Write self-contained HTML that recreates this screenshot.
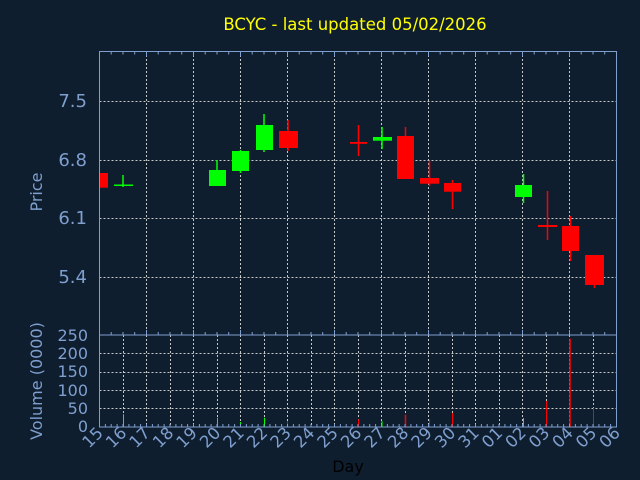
<!DOCTYPE html>
<html><head><meta charset="utf-8"><style>
html,body{margin:0;padding:0;background:#0f1e2f;}
svg{display:block;}
text{font-family:"DejaVu Sans","Liberation Sans",sans-serif;}
</style></head><body>
<svg width="640" height="480" xmlns="http://www.w3.org/2000/svg">
<rect width="640" height="480" fill="#0f1e2f"/>
<text x="355" y="30" fill="#ffff00" font-size="16.5" text-anchor="middle">BCYC - last updated 05/02/2026</text>
<g stroke="#c8c8c8" stroke-width="1" stroke-dasharray="2,2">
<line x1="99.5" x2="616.5" y1="101.5" y2="101.5"/>
<line x1="99.5" x2="616.5" y1="160.5" y2="160.5"/>
<line x1="99.5" x2="616.5" y1="218.5" y2="218.5"/>
<line x1="99.5" x2="616.5" y1="277.5" y2="277.5"/>
<line x1="99.5" x2="616.5" y1="353.5" y2="353.5"/>
<line x1="99.5" x2="616.5" y1="372.5" y2="372.5"/>
<line x1="99.5" x2="616.5" y1="390.5" y2="390.5"/>
<line x1="99.5" x2="616.5" y1="408.5" y2="408.5"/>
<line x1="146.5" x2="146.5" y1="51" y2="427"/>
<line x1="193.5" x2="193.5" y1="51" y2="427"/>
<line x1="240.5" x2="240.5" y1="51" y2="427"/>
<line x1="287.5" x2="287.5" y1="51" y2="427"/>
<line x1="334.5" x2="334.5" y1="51" y2="427"/>
<line x1="381.5" x2="381.5" y1="51" y2="427"/>
<line x1="428.5" x2="428.5" y1="51" y2="427"/>
<line x1="475.5" x2="475.5" y1="51" y2="427"/>
<line x1="522.5" x2="522.5" y1="51" y2="427"/>
<line x1="569.5" x2="569.5" y1="51" y2="427"/>
<line x1="123.5" x2="123.5" y1="335" y2="427"/>
<line x1="170.5" x2="170.5" y1="335" y2="427"/>
<line x1="217.5" x2="217.5" y1="335" y2="427"/>
<line x1="264.5" x2="264.5" y1="335" y2="427"/>
<line x1="311.5" x2="311.5" y1="335" y2="427"/>
<line x1="358.5" x2="358.5" y1="335" y2="427"/>
<line x1="405.5" x2="405.5" y1="335" y2="427"/>
<line x1="452.5" x2="452.5" y1="335" y2="427"/>
<line x1="499.5" x2="499.5" y1="335" y2="427"/>
<line x1="546.5" x2="546.5" y1="335" y2="427"/>
<line x1="593.5" x2="593.5" y1="335" y2="427"/>
</g>
<g stroke-width="1.5">
<rect x="99.5" y="173" width="8.5" height="14.7" fill="#ff0000"/>
<line x1="123" x2="123" y1="175" y2="187" stroke="#00ff00"/><rect x="114" y="184.5" width="19" height="1.5" fill="#00ff00"/>
<line x1="217" x2="217" y1="160" y2="186" stroke="#00ff00"/><rect x="209" y="170" width="17" height="16" fill="#00ff00"/>
<line x1="240.5" x2="240.5" y1="150" y2="173" stroke="#00ff00"/><rect x="232" y="151" width="17" height="20" fill="#00ff00"/>
<line x1="264" x2="264" y1="114" y2="152" stroke="#00ff00"/><rect x="256" y="125" width="17" height="25" fill="#00ff00"/>
<line x1="288" x2="288" y1="120" y2="151" stroke="#ff0000"/><rect x="279" y="131" width="19" height="17" fill="#ff0000"/>
<line x1="358.5" x2="358.5" y1="125" y2="156" stroke="#ff0000"/><rect x="350" y="142" width="17" height="1.8" fill="#ff0000"/>
<line x1="382" x2="382" y1="127" y2="149" stroke="#00ff00"/><rect x="373" y="137" width="19" height="3.7" fill="#00ff00"/>
<line x1="405.5" x2="405.5" y1="127" y2="179" stroke="#ff0000"/><rect x="397" y="136" width="17" height="43" fill="#ff0000"/>
<line x1="429.5" x2="429.5" y1="161" y2="186" stroke="#ff0000"/><rect x="420" y="178" width="19" height="5.7" fill="#ff0000"/>
<line x1="452.5" x2="452.5" y1="180" y2="209" stroke="#ff0000"/><rect x="444" y="183" width="17" height="8.7" fill="#ff0000"/>
<line x1="523.5" x2="523.5" y1="174" y2="203" stroke="#00ff00"/><rect x="515" y="185" width="17" height="12" fill="#00ff00"/>
<line x1="547.5" x2="547.5" y1="191" y2="240" stroke="#ff0000"/><rect x="538" y="225" width="19" height="2" fill="#ff0000"/>
<line x1="570.5" x2="570.5" y1="216" y2="261" stroke="#ff0000"/><rect x="562" y="226" width="17" height="25" fill="#ff0000"/>
<line x1="594.5" x2="594.5" y1="280" y2="288" stroke="#ff0000"/><rect x="585" y="255" width="19" height="30" fill="#ff0000"/>
</g>
<g stroke-width="1">
<line x1="123.5" x2="123.5" y1="414.3" y2="427" stroke="#00ff00"/>
<line x1="217.5" x2="217.5" y1="417.7" y2="427" stroke="#00ff00"/>
<line x1="240.5" x2="240.5" y1="422" y2="427" stroke="#00ff00"/>
<line x1="264.5" x2="264.5" y1="417.7" y2="427" stroke="#00ff00"/>
<line x1="287.5" x2="287.5" y1="421" y2="427" stroke="#ff0000"/>
<line x1="358.5" x2="358.5" y1="419.3" y2="427" stroke="#ff0000"/>
<line x1="382" x2="382" y1="421" y2="427" stroke="#00ff00"/>
<line x1="405.5" x2="405.5" y1="414.7" y2="427" stroke="#ff0000" stroke-width="1.5"/>
<line x1="429.5" x2="429.5" y1="419.3" y2="427" stroke="#ff0000"/>
<line x1="452.5" x2="452.5" y1="413" y2="427" stroke="#ff0000"/>
<line x1="523.5" x2="523.5" y1="418" y2="427" stroke="#00ff00"/>
<line x1="546.5" x2="546.5" y1="401" y2="427" stroke="#ff0000"/>
<line x1="570" x2="570" y1="338.7" y2="427" stroke="#ff0000" stroke-width="1.5"/>
<line x1="593.5" x2="593.5" y1="407.7" y2="427" stroke="#ff0000"/>
</g>
<g fill="none" stroke="#7f9fcf" stroke-width="1">
<rect x="99.5" y="51.5" width="517" height="283.5"/>
<rect x="99.5" y="335" width="517" height="92"/>
</g>
<g stroke="#7f9fcf" stroke-width="1">
<path d="M111.2 51.5v3M123 51.5v3M134.7 51.5v3M146.5 51.5v5M158.2 51.5v3M170 51.5v3M181.7 51.5v3M193.5 51.5v5M205.2 51.5v3M217 51.5v3M228.7 51.5v3M240.5 51.5v5M252.2 51.5v3M264 51.5v3M275.7 51.5v3M287.5 51.5v5M299.2 51.5v3M311 51.5v3M322.7 51.5v3M334.5 51.5v5M346.2 51.5v3M358 51.5v3M369.7 51.5v3M381.5 51.5v5M393.2 51.5v3M405 51.5v3M416.7 51.5v3M428.5 51.5v5M440.2 51.5v3M452 51.5v3M463.7 51.5v3M475.5 51.5v5M487.2 51.5v3M499 51.5v3M510.7 51.5v3M522.5 51.5v5M534.2 51.5v3M546 51.5v3M557.7 51.5v3M569.5 51.5v5M581.2 51.5v3M593 51.5v3M604.7 51.5v3"/>
<path d="M111.2 335v-3M123 335v-3M134.7 335v-3M146.5 335v-5M158.2 335v-3M170 335v-3M181.7 335v-3M193.5 335v-5M205.2 335v-3M217 335v-3M228.7 335v-3M240.5 335v-5M252.2 335v-3M264 335v-3M275.7 335v-3M287.5 335v-5M299.2 335v-3M311 335v-3M322.7 335v-3M334.5 335v-5M346.2 335v-3M358 335v-3M369.7 335v-3M381.5 335v-5M393.2 335v-3M405 335v-3M416.7 335v-3M428.5 335v-5M440.2 335v-3M452 335v-3M463.7 335v-3M475.5 335v-5M487.2 335v-3M499 335v-3M510.7 335v-3M522.5 335v-5M534.2 335v-3M546 335v-3M557.7 335v-3M569.5 335v-5M581.2 335v-3M593 335v-3M604.7 335v-3"/>
<path d="M105.4 427v-3M111.2 427v-3M117.1 427v-3M123 427v-3M128.9 427v-3M134.7 427v-3M140.6 427v-3M146.5 427v-3M152.4 427v-3M158.2 427v-3M164.1 427v-3M170 427v-3M175.9 427v-3M181.7 427v-3M187.6 427v-3M193.5 427v-3M199.4 427v-3M205.2 427v-3M211.1 427v-3M217 427v-3M222.9 427v-3M228.7 427v-3M234.6 427v-3M240.5 427v-3M246.4 427v-3M252.2 427v-3M258.1 427v-3M264 427v-3M269.9 427v-3M275.7 427v-3M281.6 427v-3M287.5 427v-3M293.4 427v-3M299.2 427v-3M305.1 427v-3M311 427v-3M316.9 427v-3M322.7 427v-3M328.6 427v-3M334.5 427v-3M340.4 427v-3M346.2 427v-3M352.1 427v-3M358 427v-3M363.9 427v-3M369.7 427v-3M375.6 427v-3M381.5 427v-3M387.4 427v-3M393.2 427v-3M399.1 427v-3M405 427v-3M410.9 427v-3M416.7 427v-3M422.6 427v-3M428.5 427v-3M434.4 427v-3M440.2 427v-3M446.1 427v-3M452 427v-3M457.9 427v-3M463.7 427v-3M469.6 427v-3M475.5 427v-3M481.4 427v-3M487.2 427v-3M493.1 427v-3M499 427v-3M504.9 427v-3M510.7 427v-3M516.6 427v-3M522.5 427v-3M528.4 427v-3M534.2 427v-3M540.1 427v-3M546 427v-3M551.9 427v-3M557.7 427v-3M563.6 427v-3M569.5 427v-3M575.4 427v-3M581.2 427v-3M587.1 427v-3M593 427v-3M598.9 427v-3M604.7 427v-3M610.6 427v-3"/>
</g>
<g fill="#7f9fcf" font-size="18" text-anchor="end">
<text x="87" y="107">7.5</text>
<text x="87" y="166">6.8</text>
<text x="87" y="224">6.1</text>
<text x="87" y="283">5.4</text>
</g>
<g fill="#7f9fcf" font-size="16" text-anchor="end">
<text x="88" y="341">250</text>
<text x="88" y="359">200</text>
<text x="88" y="377">150</text>
<text x="88" y="396">100</text>
<text x="88" y="414">50</text>
<text x="88" y="432">0</text>
</g>
<text transform="translate(42,192) rotate(-90)" fill="#7f9fcf" font-size="16" text-anchor="middle">Price</text>
<text transform="translate(42,381) rotate(-90)" fill="#7f9fcf" font-size="16" text-anchor="middle">Volume (0000)</text>
<g fill="#7f9fcf" font-size="16.5" text-anchor="end">
<text transform="translate(104,434) rotate(-45)">15</text>
<text transform="translate(127.5,434) rotate(-45)">16</text>
<text transform="translate(151,434) rotate(-45)">17</text>
<text transform="translate(174.5,434) rotate(-45)">18</text>
<text transform="translate(198,434) rotate(-45)">19</text>
<text transform="translate(221.5,434) rotate(-45)">20</text>
<text transform="translate(245,434) rotate(-45)">21</text>
<text transform="translate(268.5,434) rotate(-45)">22</text>
<text transform="translate(292,434) rotate(-45)">23</text>
<text transform="translate(315.5,434) rotate(-45)">24</text>
<text transform="translate(339,434) rotate(-45)">25</text>
<text transform="translate(362.5,434) rotate(-45)">26</text>
<text transform="translate(386,434) rotate(-45)">27</text>
<text transform="translate(409.5,434) rotate(-45)">28</text>
<text transform="translate(433,434) rotate(-45)">29</text>
<text transform="translate(456.5,434) rotate(-45)">30</text>
<text transform="translate(480,434) rotate(-45)">31</text>
<text transform="translate(503.5,434) rotate(-45)">01</text>
<text transform="translate(527,434) rotate(-45)">02</text>
<text transform="translate(550.5,434) rotate(-45)">03</text>
<text transform="translate(574,434) rotate(-45)">04</text>
<text transform="translate(597.5,434) rotate(-45)">05</text>
<text transform="translate(621,434) rotate(-45)">06</text>
</g>
<text x="348" y="472" fill="#000000" font-size="16" text-anchor="middle">Day</text>
</svg>
</body></html>
